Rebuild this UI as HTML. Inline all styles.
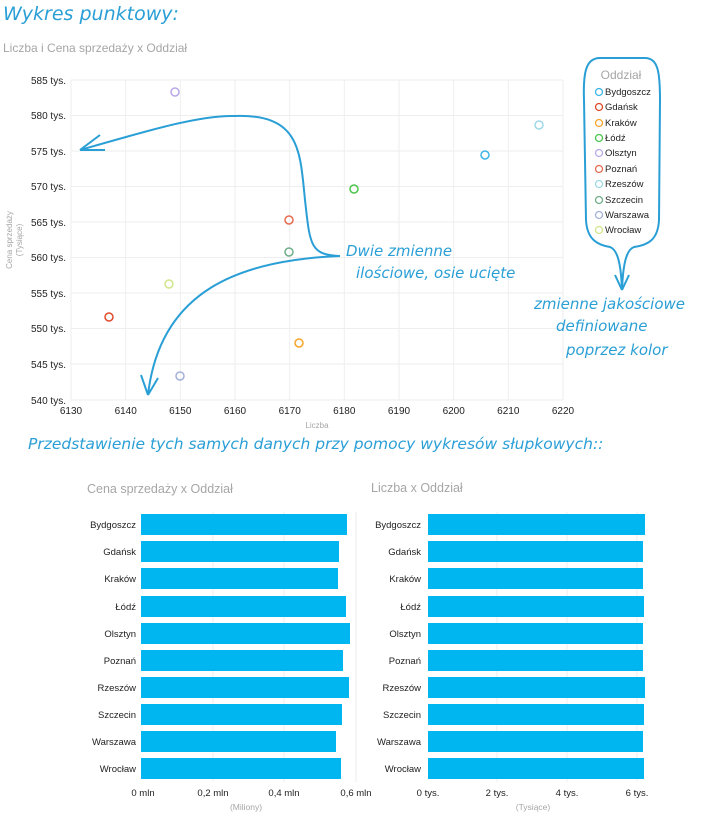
<!DOCTYPE html><html><head><meta charset="utf-8"><style>
body{margin:0;background:#fff;width:713px;height:822px;overflow:hidden}
svg{display:block}
.h{font-family:"DejaVu Sans",sans-serif;font-style:italic;fill:#2a9fd6}
.t{font-family:"Liberation Sans",sans-serif}
</style></head><body>
<svg width="713" height="822" viewBox="0 0 713 822">
<text x="3" y="20" class="h" font-size="19">Wykres punktowy:</text>
<text x="3" y="52" class="t" font-size="12" fill="#a6a6a6">Liczba i Cena sprzedaży x Oddział</text>
<g stroke="#eeeeee" stroke-width="1">
<line x1="71" y1="80" x2="563" y2="80"/><line x1="71" y1="115.5" x2="563" y2="115.5"/><line x1="71" y1="151" x2="563" y2="151"/><line x1="71" y1="186.5" x2="563" y2="186.5"/><line x1="71" y1="222" x2="563" y2="222"/><line x1="71" y1="257.5" x2="563" y2="257.5"/><line x1="71" y1="293" x2="563" y2="293"/><line x1="71" y1="328.5" x2="563" y2="328.5"/><line x1="71" y1="364" x2="563" y2="364"/><line x1="71" y1="400" x2="563" y2="400"/>
<line x1="71" y1="80" x2="71" y2="400"/><line x1="125.7" y1="80" x2="125.7" y2="400"/><line x1="180.3" y1="80" x2="180.3" y2="400"/><line x1="235" y1="80" x2="235" y2="400"/><line x1="289.7" y1="80" x2="289.7" y2="400"/><line x1="344.3" y1="80" x2="344.3" y2="400"/><line x1="399" y1="80" x2="399" y2="400"/><line x1="453.7" y1="80" x2="453.7" y2="400"/><line x1="508.3" y1="80" x2="508.3" y2="400"/><line x1="563" y1="80" x2="563" y2="400"/>
</g>
<g class="t" font-size="10" fill="#222" text-anchor="end">
<text x="66" y="84">585 tys.</text><text x="66" y="119">580 tys.</text><text x="66" y="155">575 tys.</text><text x="66" y="190">570 tys.</text><text x="66" y="226">565 tys.</text><text x="66" y="261">560 tys.</text><text x="66" y="297">555 tys.</text><text x="66" y="332">550 tys.</text><text x="66" y="368">545 tys.</text><text x="66" y="404">540 tys.</text>
</g>
<g class="t" font-size="10" fill="#222" text-anchor="middle">
<text x="71" y="414">6130</text><text x="125.7" y="414">6140</text><text x="180.3" y="414">6150</text><text x="235" y="414">6160</text><text x="289.7" y="414">6170</text><text x="344.3" y="414">6180</text><text x="399" y="414">6190</text><text x="453.7" y="414">6200</text><text x="508.3" y="414">6210</text><text x="563" y="414">6220</text>
</g>
<text x="317" y="428" class="t" font-size="8" fill="#a6a6a6" text-anchor="middle">Liczba</text>
<text transform="translate(12,240) rotate(-90)" class="t" font-size="8" fill="#a6a6a6" text-anchor="middle">Cena sprzedaży</text>
<text transform="translate(22,240) rotate(-90)" class="t" font-size="8" fill="#a6a6a6" text-anchor="middle">(Tysiące)</text>
<g fill="none" stroke-width="1.5">
<circle cx="175" cy="92" r="4" stroke="#b9a8e6"/>
<circle cx="539" cy="125" r="4" stroke="#9ed9e6"/>
<circle cx="485" cy="155" r="4" stroke="#3cb4e6"/>
<circle cx="354" cy="189" r="4" stroke="#4cc44c"/>
<circle cx="289" cy="220" r="4" stroke="#e66b50"/>
<circle cx="289" cy="252" r="4" stroke="#6fae8a"/>
<circle cx="169" cy="284" r="4" stroke="#d0e68a"/>
<circle cx="109" cy="317" r="4" stroke="#e04a2a"/>
<circle cx="299" cy="343" r="4" stroke="#f5a52a"/>
<circle cx="180" cy="376" r="4" stroke="#a5b0d6"/>
</g>
<g fill="none" stroke="#2a9fd6" stroke-width="2">
<path d="M80 150 C150 130 200 115 235 116 C300 114 300 150 305 200 C310 245 310 255 340 256"/>
<path d="M80 150 L100 135 M80 150 L105 150"/>
<path d="M340 256 C240 260 160 290 148 395 M148 395 L141 375 M148 395 L158 378"/>
<path d="M600 58 C586 58 583 72 584 100 L586 220 C587 240 598 245 610 247 C618 250 621 265 622 290 C623 265 626 250 634 247 C648 245 658 240 659 220 L660 100 C660 72 658 58 645 58 Z"/>
<path d="M622 290 L615 275 M622 290 L629 275"/>
</g>
<text x="346" y="256" class="h" font-size="15">Dwie zmienne</text>
<text x="356" y="278" class="h" font-size="15">ilościowe, osie ucięte</text>
<text x="534" y="309" class="h" font-size="15">zmienne jakościowe</text>
<text x="556" y="331" class="h" font-size="15">definiowane</text>
<text x="566" y="355" class="h" font-size="15">poprzez kolor</text>
<text x="621" y="79" class="t" font-size="12" fill="#a6a6a6" text-anchor="middle">Oddział</text>
<g class="t" font-size="9.5" fill="#222">
<g fill="none" stroke-width="1.3">
<circle cx="599" cy="92" r="3.5" stroke="#3cb4e6"/><circle cx="599" cy="107" r="3.5" stroke="#e04a2a"/><circle cx="599" cy="123" r="3.5" stroke="#f5a52a"/><circle cx="599" cy="138" r="3.5" stroke="#4cc44c"/><circle cx="599" cy="153" r="3.5" stroke="#b9a8e6"/><circle cx="599" cy="169" r="3.5" stroke="#e66b50"/><circle cx="599" cy="184" r="3.5" stroke="#9ed9e6"/><circle cx="599" cy="200" r="3.5" stroke="#6fae8a"/><circle cx="599" cy="215" r="3.5" stroke="#a5b0d6"/><circle cx="599" cy="230" r="3.5" stroke="#d0e68a"/>
</g>
<text x="605" y="95">Bydgoszcz</text><text x="605" y="110">Gdańsk</text><text x="605" y="126">Kraków</text><text x="605" y="141">Łódź</text><text x="605" y="156">Olsztyn</text><text x="605" y="172">Poznań</text><text x="605" y="187">Rzeszów</text><text x="605" y="203">Szczecin</text><text x="605" y="218">Warszawa</text><text x="605" y="233">Wrocław</text>
</g>
<text x="28" y="449" class="h" font-size="15.5">Przedstawienie tych samych danych przy pomocy wykresów słupkowych::</text>
<text x="87" y="493" class="t" font-size="12.5" fill="#a6a6a6">Cena sprzedaży x Oddział</text>
<text x="371" y="492" class="t" font-size="12.5" fill="#a6a6a6">Liczba x Oddział</text>
<g stroke="#eeeeee"><line x1="213" y1="512" x2="213" y2="782"/><line x1="284" y1="512" x2="284" y2="782"/><line x1="356" y1="512" x2="356" y2="782"/>
<line x1="497" y1="512" x2="497" y2="782"/><line x1="567" y1="512" x2="567" y2="782"/><line x1="637" y1="512" x2="637" y2="782"/></g>
<g fill="#00b6f0">
<rect x="141" y="514" width="206" height="21"/><rect x="141" y="541" width="198" height="21"/><rect x="141" y="568" width="197" height="21"/><rect x="141" y="596" width="205" height="21"/><rect x="141" y="623" width="209" height="21"/><rect x="141" y="650" width="202" height="21"/><rect x="141" y="677" width="208" height="21"/><rect x="141" y="704" width="201" height="21"/><rect x="141" y="731" width="195" height="21"/><rect x="141" y="758" width="200" height="21"/>
<rect x="428" y="514" width="217" height="21"/><rect x="428" y="541" width="215" height="21"/><rect x="428" y="568" width="215" height="21"/><rect x="428" y="596" width="216" height="21"/><rect x="428" y="623" width="215" height="21"/><rect x="428" y="650" width="215" height="21"/><rect x="428" y="677" width="217" height="21"/><rect x="428" y="704" width="216" height="21"/><rect x="428" y="731" width="215" height="21"/><rect x="428" y="758" width="216" height="21"/>
</g>
<g class="t" font-size="9.5" fill="#222" text-anchor="end">
<text x="136" y="528">Bydgoszcz</text><text x="136" y="555">Gdańsk</text><text x="136" y="582">Kraków</text><text x="136" y="610">Łódź</text><text x="136" y="637">Olsztyn</text><text x="136" y="664">Poznań</text><text x="136" y="691">Rzeszów</text><text x="136" y="718">Szczecin</text><text x="136" y="745">Warszawa</text><text x="136" y="772">Wrocław</text>
<text x="421" y="528">Bydgoszcz</text><text x="421" y="555">Gdańsk</text><text x="421" y="582">Kraków</text><text x="421" y="610">Łódź</text><text x="421" y="637">Olsztyn</text><text x="421" y="664">Poznań</text><text x="421" y="691">Rzeszów</text><text x="421" y="718">Szczecin</text><text x="421" y="745">Warszawa</text><text x="421" y="772">Wrocław</text>
</g>
<g class="t" font-size="9.5" fill="#222" text-anchor="middle">
<text x="143" y="796">0 mln</text><text x="213" y="796">0,2 mln</text><text x="284" y="796">0,4 mln</text><text x="356" y="796">0,6 mln</text>
<text x="428" y="796">0 tys.</text><text x="497" y="796">2 tys.</text><text x="567" y="796">4 tys.</text><text x="637" y="796">6 tys.</text>
</g>
<text x="246" y="810" class="t" font-size="8.5" fill="#a6a6a6" text-anchor="middle">(Miliony)</text>
<text x="533" y="810" class="t" font-size="8.5" fill="#a6a6a6" text-anchor="middle">(Tysiące)</text>
</svg></body></html>
